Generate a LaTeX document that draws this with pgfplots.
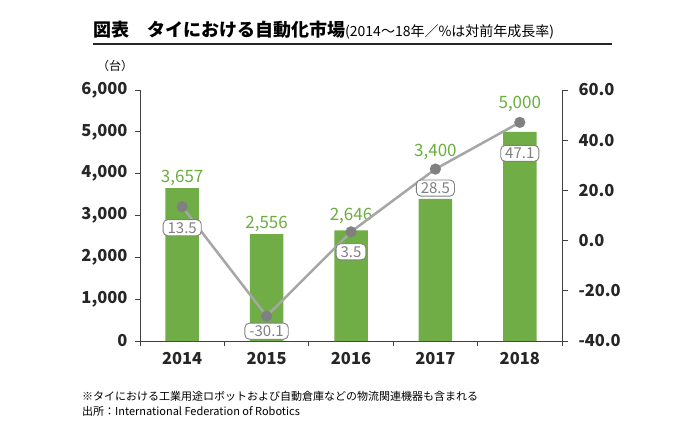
\documentclass[border=0pt]{standalone}
\usepackage{pgfplots}
\pgfplotsset{compat=1.18}
\usepackage{pgfplotstable}
\usepackage{fontspec}
\setmainfont{Noto Sans CJK JP}

\definecolor{bargreen}{HTML}{70AD47}
\definecolor{labgreen}{HTML}{6AAE3E}
\definecolor{linegray}{HTML}{A6A6A6}
\definecolor{markgray}{HTML}{808080}
\definecolor{axisgray}{HTML}{404040}

% units (left axis)
\pgfplotstableread{
x units off
0 3657 6
1 2556 6
2 2646 10
3 3400 42
4 5000 23
}\unitsdata

% growth rate in % (right axis)
\pgfplotstableread{
x rate off label
0 13.5 21 13.5
1 -30.1 15 -30.1
2 3.5 20 3.5
3 28.5 19 28.5
4 47.1 31 47.1
}\ratedata

\pgfplotsset{
  common/.style={
    at={(140pt,-341pt)}, anchor=south west,
    scale only axis, width=422pt, height=251pt,
    xmin=-0.5, xmax=4.5,
    axis line style={axisgray, line width=1pt, -},
    tick style={axisgray, line width=0.8pt},
    tick align=outside,
    /pgf/number format/assume math mode=true,
    ticklabel style={font=\fontsize{16.5}{18}\selectfont\bfseries, text=black!85},
  },
}

\begin{document}
\begin{tikzpicture}
\useasboundingbox (0pt,0pt) rectangle (680pt,-424pt);

\node[anchor=base west, inner sep=0] at (93pt,-36pt)
  {{\fontsize{18}{20}\selectfont\bfseries 図表　タイにおける自動化市場}{\fontsize{14}{16}\selectfont (2014～18年／\%は対前年成長率)}};
\draw[black!85, line width=2.5pt] (93pt,-44pt) -- (612pt,-44pt);
\node[anchor=west, inner sep=0] at (97pt,-66pt) {\fontsize{12}{14}\selectfont（台）};

\begin{axis}[common,
  ybar, bar width=33.5pt,
  ymin=0, ymax=6000,
  axis x line*=bottom, axis y line*=left,
  ytick={0,1000,...,6000},
  yticklabel style={xshift=-4pt},
  major tick length=5pt,
  /pgf/number format/1000 sep={,},
  xtick={-0.5,0.5,...,4.5}, xticklabels={},
  extra x ticks={0,1,2,3,4},
  extra x tick labels={2014,2015,2016,2017,2018},
  extra x tick style={major tick length=0pt, tick label style={yshift=-8pt}},
]
\addplot[fill=bargreen, draw=none,
  nodes near coords,
  visualization depends on={\thisrow{off}\as\boff},
  every node near coord/.append style={anchor=base, yshift=\boff pt,
    text=labgreen, font=\fontsize{17}{19}\selectfont},
] table[x=x, y=units] {\unitsdata};
\end{axis}

\begin{axis}[common,
  ymin=-40, ymax=60,
  axis y line*=right, axis x line=none,
  ytick={-40,-20,...,60},
  major tick length=6pt,
  yticklabel style={xshift=7pt, /pgf/number format/.cd, fixed, fixed zerofill, precision=1},
]
\addplot[linegray, line width=2.5pt,
  mark=*, mark size=5.5pt, mark options={fill=markgray, draw=markgray, line width=0.1pt},
  point meta=explicit symbolic,
  nodes near coords,
  visualization depends on={\thisrow{off}\as\loff},
  every node near coord/.append style={anchor=center, yshift=-\loff pt,
    draw=markgray, line width=0.9pt, fill=white, rounded corners=4.5pt,
    text=markgray, font=\fontsize{15}{17}\selectfont,
    inner xsep=4.5pt, inner ysep=2.5pt},
] table[x=x, y=rate, meta=label] {\ratedata};
\end{axis}

\node[anchor=west, inner sep=0] at (82pt,-396pt)
  {\fontsize{11}{13}\selectfont ※タイにおける工業用途ロボットおよび自動倉庫などの物流関連機器も含まれる};
\node[anchor=west, inner sep=0] at (82pt,-411pt)
  {\fontsize{11}{13}\selectfont 出所：International Federation of Robotics};
\end{tikzpicture}
\end{document}
